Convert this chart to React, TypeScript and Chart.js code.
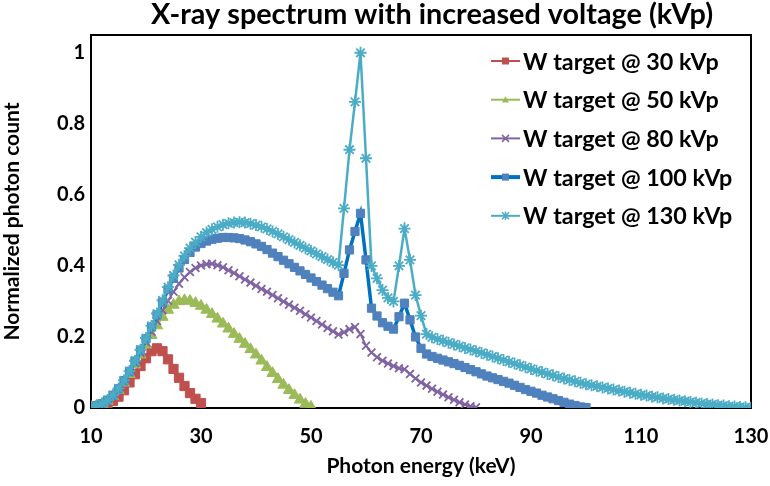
import React, { useEffect, useRef } from 'react';
import { Chart, registerables } from 'chart.js';

Chart.register(...registerables);

const FONT = 'Lato, "Open Sans", sans-serif';

const START_KEV = 10;

const seriesLabels = [
  'W target @ 30 kVp',
  'W target @ 50 kVp',
  'W target @ 80 kVp',
  'W target @ 100 kVp',
  'W target @ 130 kVp',
];

// Normalized photon count, one value per keV starting at 10 keV
const kvp30 = [0.003, 0.005, 0.008, 0.013, 0.02, 0.032, 0.05, 0.072, 0.095, 0.118, 0.14, 0.16, 0.168, 0.16, 0.137, 0.11, 0.085, 0.062, 0.042, 0.026, 0.014];

const kvp50 = [0.003, 0.006, 0.011, 0.02, 0.033, 0.05, 0.071, 0.095, 0.122, 0.15, 0.178, 0.205, 0.232, 0.256, 0.276, 0.29, 0.3, 0.303, 0.301, 0.295,
  0.287, 0.276, 0.264, 0.251, 0.237, 0.223, 0.208, 0.194, 0.18, 0.165, 0.15, 0.133, 0.115, 0.098, 0.081, 0.065, 0.05, 0.036, 0.023, 0.011, 0.003];

const kvp80 = [0.003, 0.006, 0.012, 0.022, 0.036, 0.053, 0.075, 0.1, 0.127, 0.155, 0.185, 0.215, 0.245, 0.275, 0.302, 0.327, 0.35, 0.368, 0.383, 0.394,
  0.401, 0.405, 0.406, 0.402, 0.396, 0.388, 0.38, 0.371, 0.362, 0.353, 0.344, 0.335, 0.327, 0.318, 0.309, 0.3, 0.291, 0.282, 0.274, 0.264,
  0.255, 0.245, 0.235, 0.225, 0.216, 0.207, 0.213, 0.222, 0.228, 0.208, 0.175, 0.156, 0.143, 0.133, 0.125, 0.118, 0.112, 0.109, 0.096, 0.083,
  0.072, 0.063, 0.054, 0.046, 0.038, 0.03, 0.023, 0.016, 0.01, 0.005, 0.002];

const kvp100 = [0.003, 0.006, 0.012, 0.022, 0.036, 0.054, 0.077, 0.103, 0.132, 0.163, 0.195, 0.228, 0.262, 0.298, 0.333, 0.365, 0.394, 0.418, 0.438, 0.453,
  0.463, 0.47, 0.475, 0.478, 0.48, 0.48, 0.479, 0.477, 0.473, 0.468, 0.462, 0.455, 0.446, 0.436, 0.426, 0.416, 0.406, 0.396, 0.386, 0.376,
  0.366, 0.356, 0.346, 0.336, 0.326, 0.316, 0.379, 0.445, 0.497, 0.548, 0.417, 0.281, 0.259, 0.24, 0.23, 0.222, 0.257, 0.295, 0.248, 0.2,
  0.168, 0.152, 0.145, 0.14, 0.135, 0.13, 0.125, 0.12, 0.114, 0.108, 0.102, 0.096, 0.09, 0.085, 0.08, 0.075, 0.07, 0.064, 0.058, 0.052,
  0.047, 0.042, 0.036, 0.031, 0.026, 0.021, 0.016, 0.011, 0.007, 0.003, 0.001];

const kvp130 = [0.003, 0.006, 0.012, 0.022, 0.036, 0.055, 0.078, 0.104, 0.133, 0.164, 0.197, 0.231, 0.266, 0.303, 0.34, 0.373, 0.403, 0.428, 0.45, 0.467,
  0.482, 0.494, 0.503, 0.51, 0.516, 0.52, 0.522, 0.523, 0.522, 0.519, 0.515, 0.51, 0.504, 0.497, 0.49, 0.482, 0.474, 0.466, 0.458, 0.45,
  0.442, 0.434, 0.426, 0.418, 0.41, 0.402, 0.562, 0.727, 0.862, 1.0, 0.703, 0.4, 0.365, 0.332, 0.31, 0.3, 0.4, 0.505, 0.417, 0.318,
  0.26, 0.208, 0.199, 0.194, 0.189, 0.184, 0.179, 0.174, 0.169, 0.165, 0.16, 0.155, 0.15, 0.145, 0.14, 0.135, 0.13, 0.125, 0.12, 0.115,
  0.11, 0.105, 0.101, 0.096, 0.092, 0.087, 0.083, 0.079, 0.075, 0.071, 0.067, 0.064, 0.061, 0.058, 0.055, 0.052, 0.049, 0.046, 0.043, 0.04,
  0.037, 0.035, 0.032, 0.03, 0.027, 0.025, 0.023, 0.021, 0.019, 0.017, 0.015, 0.013, 0.011, 0.01, 0.008, 0.007, 0.005, 0.004, 0.003, 0.002,
  0.001];

const seriesValues = [kvp30, kvp50, kvp80, kvp100, kvp130];

const lineColors = ['#C0504D', '#9BBB59', '#8064A2', '#0070C0', '#4BACC6'];
const markerColors = ['#C0504D', '#9BBB59', '#8064A2', '#4F81BD', '#4BACC6'];
const pointStyles = ['rect', 'triangle', 'crossRot', 'rect', 'star'];
const pointRadii = [6.5, 6.5, 5.5, 5.8, 6];
const lineWidths = [2, 2, 2, 3.5, 2.5];

const xTicks = [10, 30, 50, 70, 90, 110, 130];
const yTicks = [0, 0.2, 0.4, 0.6, 0.8, 1];

const chartTitle = 'X-ray spectrum with increased voltage (kVp)';
const xTitle = 'Photon energy (keV)';
const yTitle = 'Normalized photon count';

function drawMarker(ctx: CanvasRenderingContext2D, style: string, x: number, y: number, r: number, color: string) {
  ctx.save();
  ctx.fillStyle = color;
  ctx.strokeStyle = color;
  ctx.lineWidth = 1.5;
  ctx.beginPath();
  if (style === 'rect') {
    ctx.rect(x - r, y - r, 2 * r, 2 * r);
    ctx.fill();
  } else if (style === 'triangle') {
    ctx.moveTo(x, y - r);
    ctx.lineTo(x + r, y + r * 0.8);
    ctx.lineTo(x - r, y + r * 0.8);
    ctx.closePath();
    ctx.fill();
  } else if (style === 'crossRot') {
    ctx.moveTo(x - r, y - r);
    ctx.lineTo(x + r, y + r);
    ctx.moveTo(x + r, y - r);
    ctx.lineTo(x - r, y + r);
    ctx.stroke();
  } else {
    ctx.moveTo(x - r, y - r);
    ctx.lineTo(x + r, y + r);
    ctx.moveTo(x + r, y - r);
    ctx.lineTo(x - r, y + r);
    ctx.moveTo(x, y - r * 1.2);
    ctx.lineTo(x, y + r * 1.2);
    ctx.stroke();
  }
  ctx.restore();
}

const decorPlugin = {
  id: 'decor',
  beforeDatasetsDraw(chart: any) {
    const { ctx, chartArea } = chart;
    ctx.save();
    ctx.strokeStyle = '#000';
    ctx.lineWidth = 2;
    ctx.strokeRect(chartArea.left, chartArea.top, chartArea.right - chartArea.left, chartArea.bottom - chartArea.top);
    ctx.restore();
  },
  afterDraw(chart: any) {
    const { ctx, chartArea } = chart;
    ctx.save();
    // title
    ctx.fillStyle = '#000';
    ctx.font = `bold 28.8px ${FONT}`;
    ctx.textAlign = 'center';
    ctx.textBaseline = 'middle';
    ctx.fillText(chartTitle, 432, 15);
    // legend
    ctx.font = `bold 23.3px ${FONT}`;
    ctx.textAlign = 'left';
    const x0 = chartArea.right - 260;
    seriesLabels.forEach((label, i) => {
      const y = chartArea.top + 26 + i * 38.7;
      ctx.strokeStyle = lineColors[i];
      ctx.lineWidth = i === 3 ? 4 : 2;
      ctx.beginPath();
      ctx.moveTo(x0, y);
      ctx.lineTo(x0 + 29, y);
      ctx.stroke();
      drawMarker(ctx, pointStyles[i], x0 + 14.5, y, 3.5, markerColors[i]);
      ctx.fillStyle = '#000';
      ctx.fillText(label, x0 + 32, y + 1);
    });
    ctx.restore();
  },
};

export default function App() {
  const canvasRef = useRef<HTMLCanvasElement | null>(null);

  useEffect(() => {
    document.body.style.margin = '0';
    const canvas = canvasRef.current;
    if (!canvas) return;
    const datasets = seriesValues.map((vals, i) => ({
      label: seriesLabels[i],
      data: vals.map((v, k) => ({ x: START_KEV + k, y: v })),
      borderColor: lineColors[i],
      backgroundColor: markerColors[i],
      pointBackgroundColor: markerColors[i],
      pointBorderColor: markerColors[i],
      pointBorderWidth: pointStyles[i] === 'rect' || pointStyles[i] === 'triangle' ? 1 : 1.8,
      pointStyle: pointStyles[i],
      pointRadius: pointRadii[i],
      borderWidth: lineWidths[i],
      tension: 0,
      fill: false,
      order: 5 - i,
    }));

    const tickFont = { family: FONT, size: 20, weight: 'bold' };
    const titleFont = { family: FONT, size: 21, weight: 'bold' };

    const chart = new Chart(canvas, {
      type: 'line',
      data: { datasets },
      options: {
        animation: false,
        responsive: false,
        devicePixelRatio: 1,
        layout: { padding: { top: 35, right: 19, left: 0, bottom: 0 } },
        plugins: {
          legend: { display: false },
          title: { display: false },
          tooltip: { enabled: false },
        },
        scales: {
          x: {
            type: 'linear',
            min: 10,
            max: 130,
            afterBuildTicks: (s: any) => {
              s.ticks = xTicks.map((v) => ({ value: v }));
            },
            afterFit: (s: any) => {
              s.height = 78;
              s.paddingLeft = 0;
              s.paddingRight = 0;
            },
            grid: { display: false, drawTicks: false },
            border: { display: false },
            ticks: {
              color: '#000',
              font: tickFont,
              padding: 17,
              maxRotation: 0,
              autoSkip: false,
            },
            title: {
              display: true,
              text: xTitle,
              color: '#000',
              font: titleFont,
              padding: { top: 0, bottom: 7 },
            },
          },
          y: {
            type: 'linear',
            min: 0,
            max: 1.05,
            afterBuildTicks: (s: any) => {
              s.ticks = yTicks.map((v) => ({ value: v }));
            },
            afterFit: (s: any) => {
              s.width = 91;
              s.paddingTop = 0;
              s.paddingBottom = 0;
            },
            grid: { display: false, drawTicks: false },
            border: { display: false },
            ticks: {
              color: '#000',
              font: tickFont,
              padding: 6,
              callback: (v: any) => `${v}`,
            },
            title: {
              display: true,
              text: yTitle,
              color: '#000',
              font: titleFont,
              padding: { top: 0, bottom: 0 },
            },
          },
        },
      },
      plugins: [decorPlugin],
    } as any);
    return () => chart.destroy();
  }, []);

  return (
    <div style={{ width: 770, height: 486, background: '#fff' }}>
      <canvas ref={canvasRef} width={770} height={486} />
    </div>
  );
}
